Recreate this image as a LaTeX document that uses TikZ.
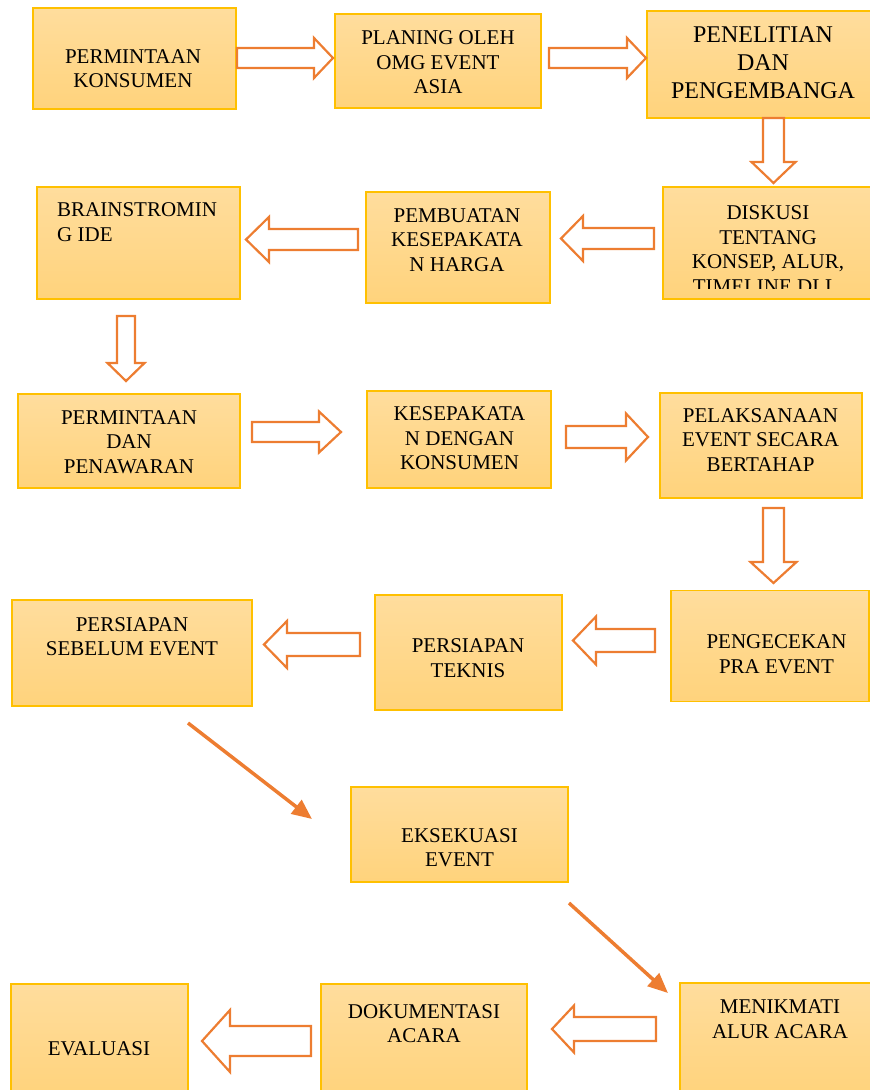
\documentclass[tikz,border=0pt]{standalone}
\usepackage{fontspec}
\setmainfont{Liberation Serif}
\usetikzlibrary{arrows.meta, calc}

\definecolor{emas}{RGB}{255,192,0}
\definecolor{atas}{RGB}{255,221,157}
\definecolor{bawah}{RGB}{255,211,124}
\definecolor{oranye}{RGB}{237,125,49}

\tikzset{
	kotak/.style = {draw = emas, line width = 1.3pt, top color = atas, bottom color = bawah, inner sep = 0pt},
	teks/.style = {align = center, inner sep = 0pt, font = \fontsize{21}{24.5}\selectfont},
	panah/.style = {draw = oranye, line width = 2.2pt, fill = white, line join = miter},
	garis/.style = {draw = oranye, line width = 3.5pt, -{Triangle[length = 20pt, width = 17pt]}}
}

% Block arrows: tail, neck, tip, centre line, half shaft, half head

\newcommand{\panahdatar}[6]{%
	\draw [panah] (#1, #4 - #5) -- (#2, #4 - #5) -- (#2, #4 - #6) -- (#3, #4)
		-- (#2, #4 + #6) -- (#2, #4 + #5) -- (#1, #4 + #5) -- cycle;}
\newcommand{\panahtegak}[6]{%
	\draw [panah] (#1 - #5, #2) -- (#1 - #5, #3) -- (#1 - #6, #3) -- (#1, #4)
		-- (#1 + #6, #3) -- (#1 + #5, #3) -- (#1 + #5, #2) -- cycle;}

\begin{document}
\begin{tikzpicture}[x = 1pt, y = -1pt]

	\clip (0, 0) rectangle (870, 1090);

	% The boxes

	\node [kotak, minimum width = 203pt, minimum height = 101pt] (permintaan) at (134.5, 58.5) {};
	\node [kotak, minimum width = 206pt, minimum height = 94pt] (planing) at (438, 61) {};
	\node [kotak, minimum width = 228pt, minimum height = 107pt] (penelitian) at (761, 64.5) {};
	\node [kotak, minimum width = 212pt, minimum height = 112pt] (diskusi) at (769, 243) {};
	\node [kotak, minimum width = 184pt, minimum height = 111pt] (pembuatan) at (458, 247.5) {};
	\node [kotak, minimum width = 203pt, minimum height = 112pt] (brainstorm) at (138.5, 243) {};
	\node [kotak, minimum width = 222pt, minimum height = 94pt] (penawaran) at (129, 441) {};
	\node [kotak, minimum width = 184pt, minimum height = 97pt] (kesepakatan) at (459, 439.5) {};
	\node [kotak, minimum width = 202pt, minimum height = 105pt] (pelaksanaan) at (761, 445.5) {};
	\node [kotak, minimum width = 198pt, minimum height = 111pt] (pengecekan) at (770, 646) {};
	\node [kotak, minimum width = 187pt, minimum height = 115pt] (teknis) at (468.5, 652.5) {};
	\node [kotak, minimum width = 240pt, minimum height = 106pt] (sebelum) at (132, 653) {};
	\node [kotak, minimum width = 217pt, minimum height = 95pt] (eksekuasi) at (459.5, 834.5) {};
	\node [kotak, minimum width = 195pt, minimum height = 112pt] (menikmati) at (777.5, 1039) {};
	\node [kotak, minimum width = 206pt, minimum height = 111pt] (dokumentasi) at (424, 1039.5) {};
	\node [kotak, minimum width = 177pt, minimum height = 111pt] (evaluasi) at (99.5, 1039.5) {};

	% The texts

	\node [teks] (permintaan-t) at (133, 68.5) {PERMINTAAN\\KONSUMEN};
	\node [teks] (planing-t) at (438, 62.5) {PLANING OLEH\\OMG EVENT\\ASIA};
	\node [teks, font = \fontsize{24}{28}\selectfont] (penelitian-t) at (763, 63) {PENELITIAN\\DAN\\PENGEMBANGA};
	\begin{scope}
		\clip (diskusi.north west) rectangle ($(diskusi.south east) + (0, -11)$);
		\node [teks] (diskusi-t) at (768, 249.5) {DISKUSI\\TENTANG\\KONSEP, ALUR,\\TIMELINE.DLL.};
	\end{scope}
	\node [teks] (pembuatan-t) at (457, 240) {PEMBUATAN\\KESEPAKATA\\N HARGA};
	\node [teks, align = left, anchor = west] (brainstorm-t) at (57, 222) {BRAINSTROMIN\\G IDE};
	\node [teks] (penawaran-t) at (129, 442) {PERMINTAAN\\DAN\\PENAWARAN};
	\node [teks] (kesepakatan-t) at (459.5, 438.5) {KESEPAKATA\\N DENGAN\\KONSUMEN};
	\node [teks] (pelaksanaan-t) at (760.5, 440) {PELAKSANAAN\\EVENT SECARA\\BERTAHAP};
	\node [teks] (pengecekan-t) at (776.5, 654) {PENGECEKAN\\PRA EVENT};
	\node [teks] (teknis-t) at (468, 658) {PERSIAPAN\\TEKNIS};
	\node [teks] (sebelum-t) at (132, 636.5) {PERSIAPAN\\SEBELUM EVENT};
	\node [teks] (eksekuasi-t) at (459.5, 847.5) {EKSEKUASI\\EVENT};
	\node [teks] (menikmati-t) at (780, 1019) {MENIKMATI\\ALUR ACARA};
	\node [teks] (dokumentasi-t) at (424, 1023.5) {DOKUMENTASI\\ACARA};
	\node [teks] (evaluasi-t) at (99, 1049) {EVALUASI};

	% Block arrows

	\panahdatar{237}{314}{333}{58}{10}{20}
	\panahdatar{549}{627}{646}{58}{10}{20}
	\panahtegak{773.5}{118}{162}{183}{10.5}{22}
	\panahdatar{654}{583}{561}{238.5}{10.5}{22.5}
	\panahdatar{358}{269}{246}{239.5}{10.5}{22.5}
	\panahtegak{126}{316}{363}{381}{9}{18.5}
	\panahdatar{252}{319}{341}{432}{10}{20.5}
	\panahdatar{566}{626}{648}{437}{11}{23.5}
	\panahtegak{773.5}{508}{562}{583}{10.5}{23}
	\panahdatar{655}{596}{573}{640.5}{11.5}{24}
	\panahdatar{360}{287}{264}{644.5}{11.5}{23.5}
	\panahdatar{656}{574}{552}{1029}{12}{23.5}
	\panahdatar{311}{230}{202}{1041}{15}{31}

	% Slanted arrows

	\coordinate (miring1a) at (188, 723);
	\coordinate (miring1b) at (312, 819);
	\coordinate (miring2a) at (569, 903);
	\coordinate (miring2b) at (668, 993);

	\draw [garis] (miring1a) -- (miring1b);
	\draw [garis] (miring2a) -- (miring2b);

\end{tikzpicture}
\end{document}
